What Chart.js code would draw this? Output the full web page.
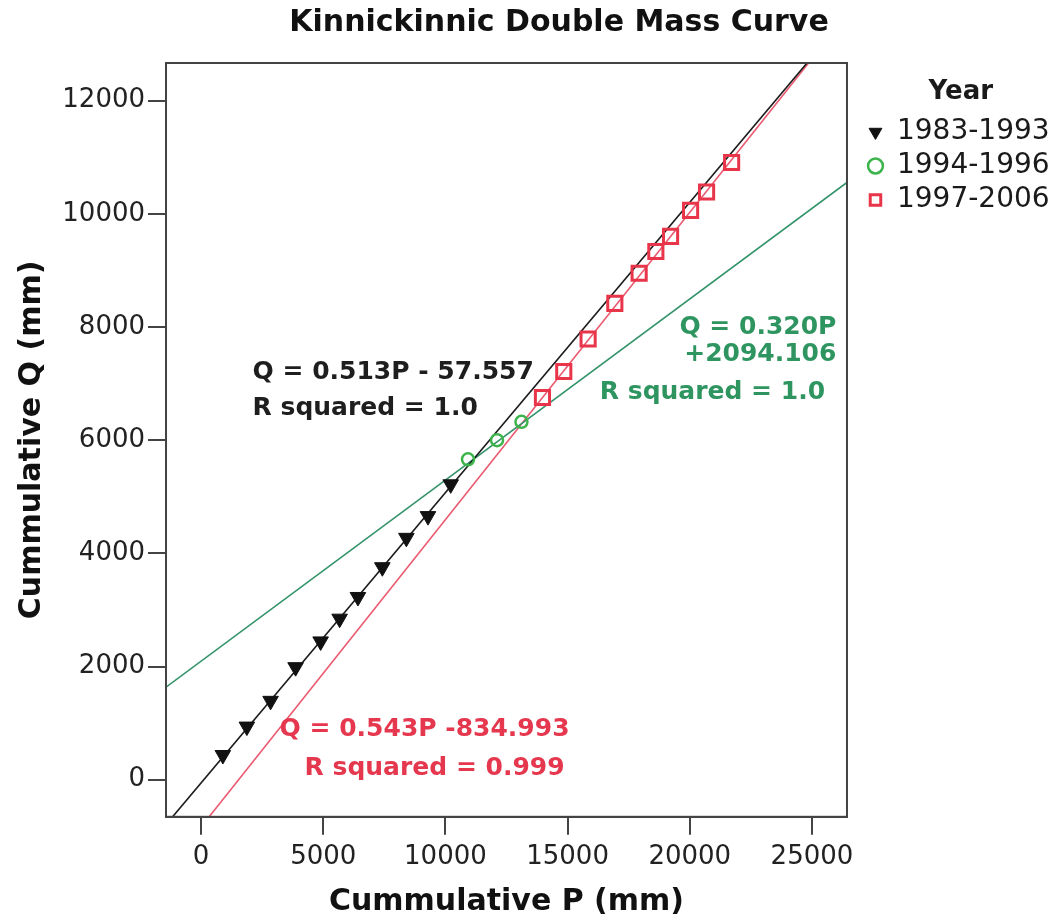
<!DOCTYPE html>
<html>
<head>
<meta charset="utf-8">
<title>Kinnickinnic Double Mass Curve</title>
<script src="https://cdn.jsdelivr.net/npm/chart.js@4/dist/chart.umd.min.js"></script>
<style>
  html, body { margin: 0; padding: 0; background: #ffffff; }
  #wrap { width: 1055px; height: 921px; }
</style>
</head>
<body>
<div id="wrap"><canvas id="chart" width="1055" height="921"></canvas></div>
<script>
// Year groups shown in the legend
const yearGroups = ['1983-1993', '1994-1996', '1997-2006'];

// Cumulative precipitation P (mm) and cumulative runoff Q (mm), per group
const p1983 = [893, 1875, 2846, 3870, 4894, 5672, 6421, 7420, 8403, 9287, 10217];
const q1983 = [437, 939, 1394, 1989, 2444, 2846, 3229, 3755, 4274, 4658, 5220];

const p1994 = [10925, 12113, 13112];
const q1994 = [5662, 5999, 6323];

const p1997 = [13972, 14844, 15840, 16933, 17928, 18612, 19214, 20033, 20688, 21712];
const q1997 = [6753, 7214, 7788, 8418, 8950, 9334, 9600, 10060, 10384, 10905];

// Least-squares fit for each group: Q = slope * P + intercept
const fitSlope = [0.513, 0.320, 0.543];
const fitIntercept = [-57.557, 2094.106, -834.993];
const fitRSquared = ['1.0', '1.0', '0.999'];

// Axis tick values
const xTicks = [0, 5000, 10000, 15000, 20000, 25000];
const yTicks = [0, 2000, 4000, 6000, 8000, 10000, 12000];

const X_MIN = -1433, X_MAX = 26433;
const Y_MIN = -655, Y_MAX = 12664;

const FONT = "'DejaVu Sans', 'Liberation Sans', sans-serif";
const groupColors = ['#111111', '#3cb44b', '#e8354a'];
const lineColors = ['#1a1a1a', '#33936a', '#ea5a70'];
const textColors = ['#1e1e1e', '#2f9560', '#e5384f'];

const toPoints = (xs, ys) => xs.map((x, i) => ({ x: x, y: ys[i] }));
const fitLine = (k) => [X_MIN, X_MAX].map(x => ({ x: x, y: fitSlope[k] * x + fitIntercept[k] }));

// Equation labels placed in data coordinates next to each fit line
const equationLabels = [
  { text: 'Q = 0.513P - 57.557', group: 0, p: 2109, q: 7190, align: 'left' },
  { text: 'R squared = ' + fitRSquared[0], group: 0, p: 2109, q: 6554, align: 'left' },
  { text: 'Q = 0.320P', group: 1, p: 26000, q: 7987, align: 'right' },
  { text: '+2094.106', group: 1, p: 26000, q: 7510, align: 'right' },
  { text: 'R squared = ' + fitRSquared[1], group: 1, p: 16319, q: 6837, align: 'left' },
  { text: 'Q = 0.543P -834.993', group: 2, p: 3215, q: 886, align: 'left' },
  { text: 'R squared = ' + fitRSquared[2], group: 2, p: 4238, q: 195, align: 'left' }
];

const annotationPlugin = {
  id: 'equationText',
  afterDatasetsDraw(chart) {
    const ctx = chart.ctx;
    const xs = chart.scales.x, ys = chart.scales.y;
    ctx.save();
    ctx.font = 'bold 25px ' + FONT;
    ctx.textBaseline = 'middle';
    equationLabels.forEach(l => {
      ctx.fillStyle = textColors[l.group];
      ctx.textAlign = l.align;
      ctx.fillText(l.text, xs.getPixelForValue(l.p), ys.getPixelForValue(l.q));
    });
    ctx.restore();
  }
};

// Closes the plot frame on the top and right sides
const framePlugin = {
  id: 'plotFrame',
  afterDatasetsDraw(chart) {
    const a = chart.chartArea;
    const ctx = chart.ctx;
    ctx.save();
    ctx.strokeStyle = '#444444';
    ctx.lineWidth = 2;
    ctx.strokeRect(a.left, a.top, a.right - a.left, a.bottom - a.top);
    ctx.restore();
  }
};

// Chart heading, drawn across the top of the canvas
const headingPlugin = {
  id: 'heading',
  afterDraw(chart) {
    const ctx = chart.ctx;
    ctx.save();
    ctx.font = 'bold 30px ' + FONT;
    ctx.fillStyle = '#111111';
    ctx.textAlign = 'center';
    ctx.textBaseline = 'middle';
    ctx.fillText('Kinnickinnic Double Mass Curve', chart.chartArea.left + 393, 23);
    ctx.restore();
  }
};

// Moves the legend a little to the right of the plot frame
const legendOffsetPlugin = {
  id: 'legendOffset',
  afterLayout(chart) {
    const lg = chart.legend;
    if (!lg) return;
    const dx = 15;
    lg.left += dx;
    lg.right += dx;
  }
};

const axisTickFont = { family: FONT, size: 26 };
const axisTitleFont = { family: FONT, size: 30, weight: 'bold' };

new Chart(document.getElementById('chart'), {
  type: 'scatter',
  data: {
    datasets: [
      {
        label: yearGroups[0],
        data: toPoints(p1983, q1983),
        pointStyle: 'triangle',
        pointRotation: 180,
        pointRadius: 9,
        backgroundColor: groupColors[0],
        borderColor: groupColors[0],
        borderWidth: 1
      },
      {
        label: yearGroups[1],
        data: toPoints(p1994, q1994),
        pointStyle: 'circle',
        pointRadius: 6,
        backgroundColor: 'rgba(255,255,255,0)',
        borderColor: groupColors[1],
        borderWidth: 2.5
      },
      {
        label: yearGroups[2],
        data: toPoints(p1997, q1997),
        pointStyle: 'rect',
        pointRadius: 10,
        backgroundColor: 'rgba(255,255,255,0)',
        borderColor: groupColors[2],
        borderWidth: 3
      },
      {
        label: 'fit ' + yearGroups[0],
        data: fitLine(0),
        showLine: true,
        pointRadius: 0,
        borderColor: lineColors[0],
        borderWidth: 1.6
      },
      {
        label: 'fit ' + yearGroups[1],
        data: fitLine(1),
        showLine: true,
        pointRadius: 0,
        borderColor: lineColors[1],
        borderWidth: 1.6
      },
      {
        label: 'fit ' + yearGroups[2],
        data: fitLine(2),
        showLine: true,
        pointRadius: 0,
        borderColor: lineColors[2],
        borderWidth: 1.6
      }
    ]
  },
  options: {
    responsive: false,
    animation: false,
    devicePixelRatio: 1,
    layout: { padding: { top: 63, right: 10.4, bottom: 0, left: 0 } },
    plugins: {
      tooltip: { enabled: false },
      title: { display: false },
      legend: {
        position: 'right',
        align: 'start',
        title: {
          display: true,
          text: 'Year',
          color: '#1a1a1a',
          font: { family: FONT, size: 26, weight: 'bold' },
          padding: { top: 16, bottom: 1.8 }
        },
        labels: {
          filter: item => item.datasetIndex < 3,
          usePointStyle: true,
          boxWidth: 15,
          boxHeight: 10.5,
          padding: 6,
          color: '#1a1a1a',
          font: { family: FONT, size: 28 }
        }
      }
    },
    scales: {
      x: {
        type: 'linear',
        min: X_MIN,
        max: X_MAX,
        afterBuildTicks: s => { s.ticks = xTicks.map(v => ({ value: v })); },
        ticks: {
          font: axisTickFont,
          color: '#222222',
          padding: 6.5,
          maxRotation: 0,
          autoSkip: false,
          callback: v => String(v)
        },
        grid: { drawOnChartArea: false, drawTicks: true, tickLength: 18, color: '#444444', lineWidth: 2 },
        border: { display: true, color: '#444444', width: 2 },
        title: {
          display: true,
          text: 'Cummulative P (mm)',
          color: '#111111',
          font: axisTitleFont,
          padding: { top: 5, bottom: 1 }
        }
      },
      y: {
        type: 'linear',
        min: Y_MIN,
        max: Y_MAX,
        afterBuildTicks: s => { s.ticks = yTicks.map(v => ({ value: v })); },
        ticks: {
          font: axisTickFont,
          color: '#222222',
          padding: 3,
          autoSkip: false,
          callback: v => String(v)
        },
        grid: { drawOnChartArea: false, drawTicks: true, tickLength: 18, color: '#444444', lineWidth: 2 },
        border: { display: true, color: '#444444', width: 2 },
        title: {
          display: true,
          text: 'Cummulative Q (mm)',
          color: '#111111',
          font: axisTitleFont,
          padding: { top: 14, bottom: 9.3 }
        }
      }
    }
  },
  plugins: [legendOffsetPlugin, annotationPlugin, framePlugin, headingPlugin]
});
</script>
</body>
</html>
